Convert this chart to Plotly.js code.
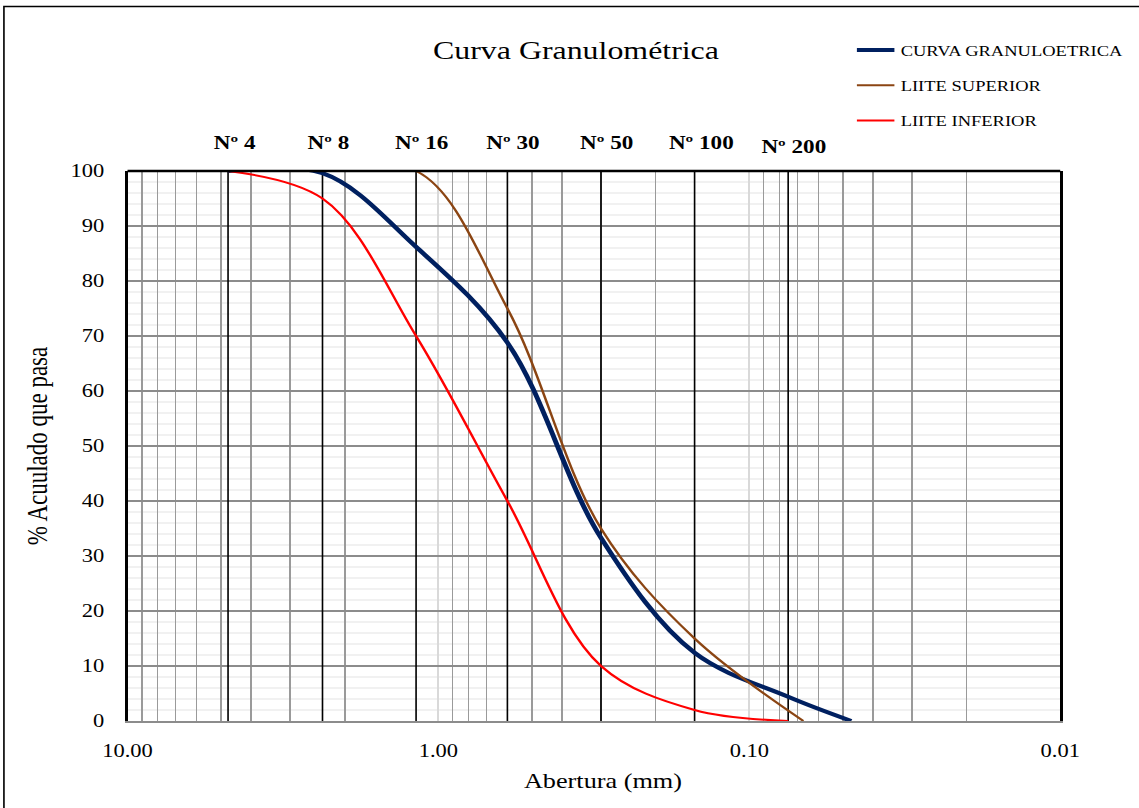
<!DOCTYPE html>
<html>
<head>
<meta charset="utf-8">
<script src="https://cdn.plot.ly/plotly-3.0.1.min.js"></script>
<style>
html,body{margin:0;padding:0;background:#fff;overflow:hidden;width:1139px;height:808px;}
#chart{width:911px;height:808px;transform:scaleX(1.25027);transform-origin:0 0;}
</style>
</head>
<body>
<div id="chart"></div>
<script>
// Sieve sizes (mm) and labels
const sieveSizes = [4.75, 2.36, 1.18, 0.6, 0.3, 0.15, 0.075];
const sieveLabels = ["Nº 4", "Nº 8", "Nº 16", "Nº 30", "Nº 50", "Nº 100", "Nº 200"];

// Curva granulométrica (muestra)
const curvaX = [4.75, 2.36, 1.18, 0.6, 0.3, 0.15, 0.075, 0.047];
const curvaY = [100, 99.6, 86.2, 68.8, 33.3, 12.4, 4.4, 0];

// Límite superior
const supX = [4.75, 2.36, 1.18, 0.6, 0.3, 0.15, 0.067];
const supY = [100, 100, 100, 75, 35, 15, 0];

// Límite inferior
const infX = [4.75, 2.36, 1.18, 0.6, 0.3, 0.15, 0.075];
const infY = [100, 95, 70, 40, 10, 2, 0];

// X tick labels
const xTickVals = [10, 1, 0.1, 0.01];
const xTickText = ["10.00", "1.00", "0.10", "0.01"];

const FONT = "Liberation Serif";

const W = 911, H = 808;
const L = 102.38, R = 63.18, T = 171, B = 87;
const PW = W - L - R, PH = H - T - B;

const traces = [];
sieveSizes.forEach((s) => {
  traces.push({
    x: [s, s], y: [0, 100], mode: "lines", type: "scatter",
    line: {color: "#000000", width: 1.3}, showlegend: false, hoverinfo: "skip"
  });
});
traces.push({
  x: curvaX, y: curvaY, name: "CURVA GRANULOETRICA", mode: "lines", type: "scatter",
  line: {color: "#002060", width: 4, shape: "spline", smoothing: 1}, legendgroup: "a", cliponaxis: false
});
traces.push({
  x: supX, y: supY, name: "LIITE SUPERIOR", mode: "lines", type: "scatter",
  line: {color: "#8B4513", width: 2, shape: "spline", smoothing: 1}, legendgroup: "b", cliponaxis: false
});
traces.push({
  x: infX, y: infY, name: "LIITE INFERIOR", mode: "lines", type: "scatter",
  line: {color: "#FF0000", width: 2, shape: "spline", smoothing: 1}, legendgroup: "c", cliponaxis: false
});

const annotations = sieveSizes.map((s, i) => ({
  x: Math.log10(s), y: 100, xref: "x", yref: "y",
  text: "<b>" + sieveLabels[i] + "</b>", showarrow: false,
  xshift: 5, yshift: (i === 6 ? 24 : 28), yanchor: "middle",
  font: {family: FONT, size: 18.5, color: "#000"}
}));
// x-axis title, placed as in the reference (slightly right of centre)
annotations.push({
  x: (603 / 1.25027 - L) / PW, y: (H - B - 781) / PH, xref: "paper", yref: "paper",
  xanchor: "center", yanchor: "middle", showarrow: false,
  text: "Abertura (mm)", font: {family: FONT, size: 21, color: "#000"}
});

// light horizontal sub-grid every 2 % (drawn under the main grid)
const shapes = [];
for (let v = 2; v < 100; v += 2) {
  if (v % 10 === 0) continue;
  shapes.push({type: "line", xref: "paper", yref: "y", x0: 0, x1: 1, y0: v, y1: v,
               line: {color: "#ededed", width: 1.5}, layer: "below"});
}
shapes.push({type: "line", xref: "paper", yref: "paper", x0: 0, x1: 1, y0: 1, y1: 1,
             line: {color: "#000", width: 2.5}});
shapes.push({type: "rect", xref: "paper", yref: "paper",
             x0: (3.6 - L) / PW, x1: (925 - L) / PW, y0: (H - B - 820) / PH, y1: (H - B - 6.5) / PH,
             line: {color: "#000", width: 1.3}, fillcolor: "rgba(0,0,0,0)", layer: "below"});

const layout = {
  width: W, height: H,
  margin: {l: L, r: R, t: T, b: B, autoexpand: false},
  font: {family: FONT, color: "#000"},
  paper_bgcolor: "#ffffff", plot_bgcolor: "#ffffff",
  title: {text: "Curva Granulométrica", font: {family: FONT, size: 25.5, color: "#000"},
          x: 460.7 / W, xref: "container", xanchor: "center", y: 1 - 50 / H, yanchor: "middle"},
  xaxis: {
    type: "log", range: [1, -2], autorange: false,
    tickvals: xTickVals, ticktext: xTickText,
    tickfont: {family: FONT, size: 18, color: "#000"},
    ticks: "outside", ticklen: 12, tickcolor: "rgba(0,0,0,0)",
    showgrid: true, gridcolor: "#d9d9d9", gridwidth: 1.5,
    minor: {dtick: "D1", showgrid: true, gridcolor: "#9a9a9a", gridwidth: 1.2, ticks: ""},
    showline: true, linecolor: "#8c8c8c", linewidth: 2, mirror: false,
    zeroline: false
  },
  yaxis: {
    range: [0, 100], autorange: false, dtick: 10, tick0: 0,
    tickfont: {family: FONT, size: 18, color: "#000"},
    ticks: "outside", ticklen: 13, tickcolor: "rgba(0,0,0,0)",
    showgrid: true, gridcolor: "#8c8c8c", gridwidth: 1.2,
    showline: true, linecolor: "#000000", linewidth: 2, mirror: true,
    zeroline: false,
    title: {text: "% Acuulado que pasa", font: {family: FONT, size: 23, color: "#000"}, standoff: 12}
  },
  showlegend: true,
  legend: {
    x: 0.7753, y: 687 / 550, xanchor: "left", yanchor: "top",
    font: {family: FONT, size: 14.8, color: "#000"},
    bgcolor: "rgba(0,0,0,0)", borderwidth: 0,
    traceorder: "grouped", tracegroupgap: 13
  },
  shapes: shapes,
  annotations: annotations
};

Plotly.newPlot("chart", traces, layout, {displayModeBar: false, staticPlot: true});
</script>
</body>
</html>
